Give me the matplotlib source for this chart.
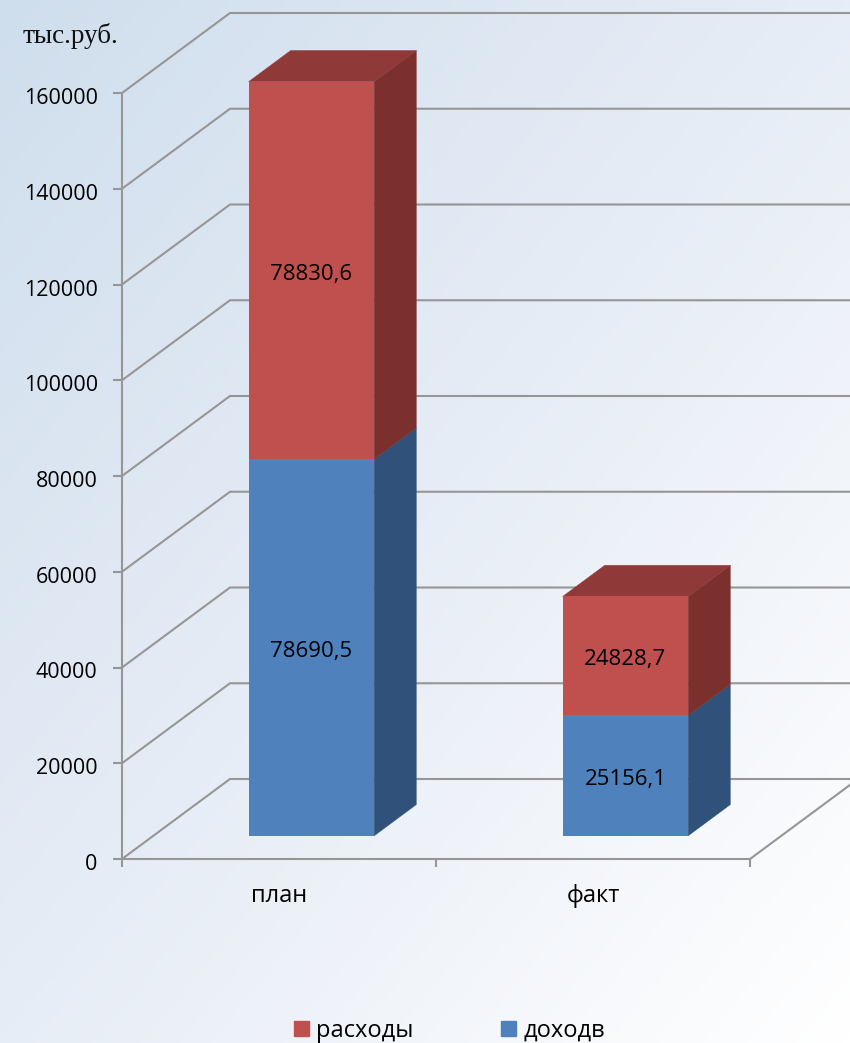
import numpy as np
import matplotlib
matplotlib.use("Agg")
import matplotlib.pyplot as plt
from matplotlib.colors import LinearSegmentedColormap
from matplotlib.patches import Patch
from matplotlib.transforms import ScaledTranslation

categories = ["план", "факт"]
income = [78690.5, 25156.1]
expense = [78830.6, 24828.7]
income_labels = ["78690,5", "25156,1"]
expense_labels = ["78830,6", "24828,7"]
y_ticks = [0, 20000, 40000, 60000, 80000, 100000, 120000, 140000, 160000]
series_names = ["расходы", "доходв"]
unit_label = "тыс.руб."

W, H = 850, 1043
BLUE, RED = "#4f81bd", "#c0504d"
BLUE_SIDE, RED_SIDE, RED_TOP = "#30527a", "#7c302e", "#8f3a38"
GRID = "#969696"
LW = 1.5
FONT = "Open Sans"

fig = plt.figure(figsize=(W / 100, H / 100), dpi=100)

# background gradient
bg = fig.add_axes([0, 0, 1, 1], zorder=0)
gx, gy = np.meshgrid(np.linspace(0, 1, 300), np.linspace(0, 1, 300))
cmap = LinearSegmentedColormap.from_list(
    "bg", [(0, "#cfdeed"), (0.5, "#e7edf6"), (1, "#ffffff")])
bg.imshow((gx + gy) / 2, cmap=cmap, extent=(0, 1, 1, 0), aspect="auto",
          vmin=0, vmax=1)
bg.axis("off")

# plot area = front plane of the 3D box
left, right, top, bottom = 122, 750, 93, 859
ax = fig.add_axes([left / W, 1 - bottom / H, (right - left) / W, (bottom - top) / H],
                  zorder=1)
ax.patch.set_alpha(0)
ax.set_xlim(0, 2)
ax.set_ylim(0, 160000)

# depth of the box, in data units
dx = 108 / 314
dy = 80 / 766 * 160000

# walls
for v in y_ticks:
    ax.plot([0, dx, 2 + dx], [v, v + dy, v + dy], color=GRID, lw=LW,
            clip_on=False, zorder=1, solid_joinstyle="miter")
ax.plot([2, 2 + dx], [0, dy], color=GRID, lw=LW, clip_on=False, zorder=1)

# bars
base_fx, base_fy, depth_f, width = 0.3, 0.29, 0.39, 0.40
x = np.arange(len(categories)) + 0.5 + base_fx * dx
base = base_fy * dy
ddx, ddy = depth_f * dx, depth_f * dy
label_shift = ScaledTranslation(0, -4 / 100, fig.dpi_scale_trans)


def side(i, y0, y1, color):
    xr = x[i] + width / 2
    ax.fill([xr, xr + ddx, xr + ddx, xr],
            [y0, y0 + ddy, y1 + ddy, y1],
            color=color, lw=0.3, clip_on=False, zorder=3)


for i in range(len(categories)):
    y1 = base + income[i]
    y2 = y1 + expense[i]
    xl, xr = x[i] - width / 2, x[i] + width / 2
    side(i, base, y1, BLUE_SIDE)
    side(i, y1, y2, RED_SIDE)
    ax.fill([xl, xr, xr + ddx, xl + ddx], [y2, y2, y2 + ddy, y2 + ddy],
            color=RED_TOP, lw=0.3, clip_on=False, zorder=3)
    ax.bar(x[i], income[i], width, bottom=base, color=BLUE, zorder=4, clip_on=False)
    ax.bar(x[i], expense[i], width, bottom=y1, color=RED, zorder=4, clip_on=False)
    ax.text(x[i], base + income[i] / 2, income_labels[i], ha="center", va="center",
            fontsize=16, family=FONT, color="black", zorder=5,
            transform=ax.transData + label_shift)
    ax.text(x[i], y1 + expense[i] / 2, expense_labels[i], ha="center", va="center",
            fontsize=16, family=FONT, color="black", zorder=5,
            transform=ax.transData + label_shift)

# axes
for s in ("top", "right"):
    ax.spines[s].set_visible(False)
for s in ("left", "bottom"):
    ax.spines[s].set_color(GRID)
    ax.spines[s].set_linewidth(LW)
    ax.spines[s].set_zorder(2)

ax.set_yticks(y_ticks)
ax.set_yticklabels([str(v) for v in y_ticks], family=FONT, fontsize=15.5)
ax.tick_params(axis="y", length=6.5, width=LW, color=GRID, pad=11)
for lab in ax.get_yticklabels():
    lab.set_transform(lab.get_transform() + ScaledTranslation(0, -3 / 100, fig.dpi_scale_trans))
ax.set_xticks([0, 1, 2])
ax.set_xticklabels([])
ax.tick_params(axis="x", which="major", length=6, width=LW, color=GRID)
ax.set_xticks([0.5, 1.5], minor=True)
ax.set_xticklabels(categories, minor=True, family=FONT, fontsize=17)
ax.tick_params(axis="x", which="minor", length=0, pad=18)

fig.text(23 / W, 1 - 43 / H, unit_label, family="Liberation Serif", fontsize=19.5,
         color="#111111", ha="left", va="baseline", zorder=5)

handles = [Patch(color=RED, label=series_names[0]),
           Patch(color=BLUE, label=series_names[1])]
fig.legend(handles=handles, loc="center", ncol=2, frameon=False,
           bbox_to_anchor=(449.5 / W, 1 - 1031 / H), prop={"family": FONT, "size": 17},
           handlelength=0.635, handleheight=0.635, handletextpad=0.3,
           columnspacing=3.7, borderpad=0, borderaxespad=0)

fig.savefig("out.png", dpi=100)
